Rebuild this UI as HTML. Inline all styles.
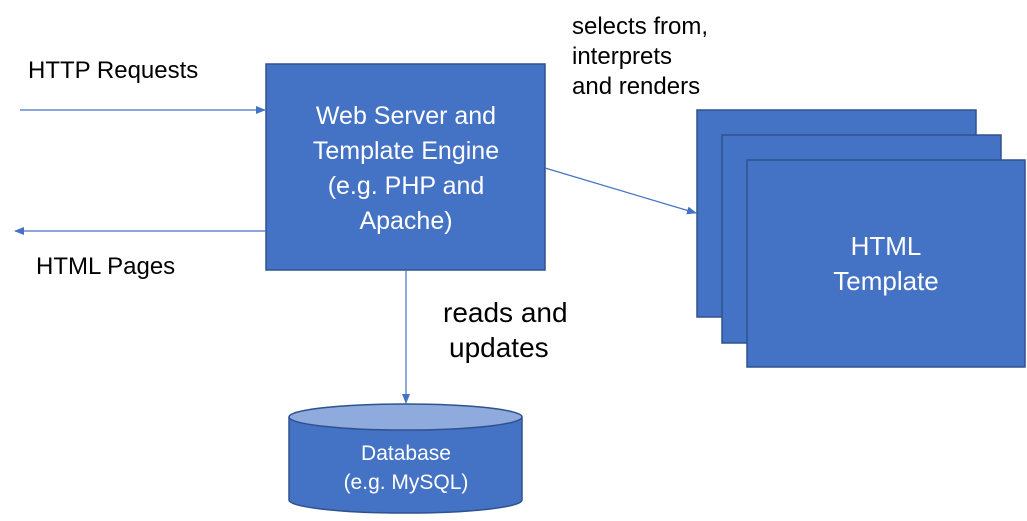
<!DOCTYPE html>
<html><head><style>
body{margin:0;background:#fff;width:1027px;height:516px;overflow:hidden}
svg text{font-family:"Liberation Sans",sans-serif}
</style></head><body>
<svg width="1027" height="516" viewBox="0 0 1027 516">
<defs><marker id="a" markerWidth="10" markerHeight="8" refX="9" refY="4" orient="auto" markerUnits="userSpaceOnUse"><path d="M0,0 L10,4 L0,8 Z" fill="#4472c4"/></marker></defs>
<g fill="#4472c4" stroke="#2f528f" stroke-width="1.5">
<rect x="266" y="64" width="279" height="206"/>
<rect x="697" y="110" width="279" height="207"/>
<rect x="722" y="135" width="279" height="208"/>
<rect x="747" y="160" width="278" height="207"/>
<path d="M289,417 L289,500 A116.5,13 0 0 0 522,500 L522,417"/>
<ellipse cx="405.5" cy="417" rx="116.5" ry="13" fill="#8faadc"/>
</g>
<g stroke="#4472c4" stroke-width="1.2" fill="none">
<line x1="20" y1="110" x2="265" y2="110" marker-end="url(#a)"/>
<line x1="266" y1="231" x2="15" y2="231" marker-end="url(#a)"/>
<line x1="545" y1="168" x2="696" y2="213" marker-end="url(#a)"/>
<line x1="406" y1="270" x2="406" y2="403" marker-end="url(#a)"/>
</g>
<g fill="#fff" font-size="25" text-anchor="middle">
<text x="406" y="124">Web Server and</text>
<text x="406" y="159">Template Engine</text>
<text x="406" y="194">(e.g. PHP and</text>
<text x="406" y="229">Apache)</text>
<text x="886" y="255" font-size="26">HTML</text>
<text x="886" y="290" font-size="26">Template</text>
<text x="406" y="460" font-size="21">Database</text>
<text x="406" y="489" font-size="21">(e.g. MySQL)</text>
</g>
<g fill="#000" font-size="24">
<text x="28" y="78">HTTP Requests</text>
<text x="36" y="274">HTML Pages</text>
<text x="572" y="34">selects from,</text>
<text x="572" y="64">interprets</text>
<text x="572" y="94">and renders</text>
<text x="443" y="322" font-size="28">reads and</text>
<text x="449" y="357" font-size="28">updates</text>
</g>
</svg>
</body></html>
